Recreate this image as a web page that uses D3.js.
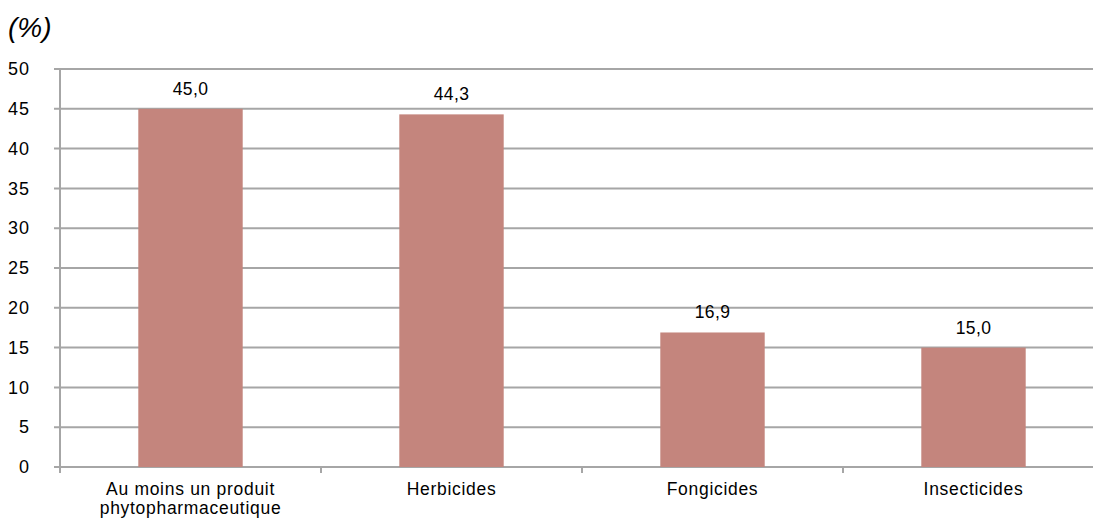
<!DOCTYPE html>
<html>
<head>
<meta charset="utf-8">
<script src="https://cdn.jsdelivr.net/npm/d3@7"></script>
<style>
  body { margin: 0; background: #fff; }
  text { font-family: "Liberation Sans", Arial, sans-serif; fill: #000; }
</style>
</head>
<body>
<div id="chart"></div>
<script>
// Chart data
var categories = ["Au moins un produit|phytopharmaceutique", "Herbicides", "Fongicides", "Insecticides"];
var values = [45.0, 44.3, 16.9, 15.0];
var valueLabels = ["45,0", "44,3", "16,9", "15,0"];
var yTicks = [0, 5, 10, 15, 20, 25, 30, 35, 40, 45, 50];

var svgWidth = 1093;
var svgHeight = 519;

var margin = { top: 69, left: 60 };
var chartWidth = 1044;
var chartHeight = 398;

var svg = d3.select("#chart")
    .append("svg")
    .attr("width", svgWidth)
    .attr("height", svgHeight);

var chartGroup = svg.append("g")
    .attr("transform", `translate(${margin.left}, ${margin.top})`);

var xScale = d3.scaleBand()
    .domain(categories)
    .range([0, chartWidth])
    .paddingInner(0.6)
    .paddingOuter(0.3);

var yScale = d3.scaleLinear()
    .domain([0, 50])
    .range([chartHeight, 0]);

var gridColor = "#a6a6a6";

// Horizontal gridlines
chartGroup.selectAll(".grid")
    .data(yTicks)
    .enter()
    .append("line")
    .attr("x1", -6)
    .attr("x2", chartWidth)
    .attr("y1", d => yScale(d))
    .attr("y2", d => yScale(d))
    .attr("stroke", gridColor)
    .attr("stroke-width", 2);

// Y axis
var leftAxis = d3.axisLeft(yScale).tickValues(yTicks).tickSize(0).tickPadding(30);
var yAxis = chartGroup.append("g").call(leftAxis);
yAxis.select(".domain").remove();
yAxis.selectAll("text")
    .attr("font-size", 18)
    .attr("letter-spacing", 1)
    .attr("font-family", "Liberation Sans, Arial, sans-serif");

chartGroup.append("line")
    .attr("x1", 0).attr("x2", 0)
    .attr("y1", 0).attr("y2", chartHeight)
    .attr("stroke", gridColor)
    .attr("stroke-width", 2);

// Category ticks on the bottom
var boundaries = d3.range(categories.length + 1).map(i => i * chartWidth / categories.length);
chartGroup.selectAll(".xtick")
    .data(boundaries)
    .enter()
    .append("line")
    .attr("x1", d => d).attr("x2", d => d)
    .attr("y1", chartHeight).attr("y2", chartHeight + 6)
    .attr("stroke", gridColor)
    .attr("stroke-width", 2);

// Bars
chartGroup.selectAll("rect")
    .data(values)
    .enter()
    .append("rect")
    .attr("x", (d, i) => xScale(categories[i]))
    .attr("y", d => yScale(d))
    .attr("width", xScale.bandwidth())
    .attr("height", d => chartHeight - yScale(d))
    .attr("fill", "#c4857d");

// Value labels
chartGroup.selectAll(".valueText")
    .data(values)
    .enter()
    .append("text")
    .attr("x", (d, i) => xScale(categories[i]) + xScale.bandwidth() / 2)
    .attr("y", d => yScale(d) - 14)
    .attr("text-anchor", "middle")
    .attr("font-size", 17.5)
    .attr("letter-spacing", 0.4)
    .text((d, i) => valueLabels[i]);

// Category labels
categories.forEach(function (c) {
    var lines = c.split("|");
    var t = chartGroup.append("text")
        .attr("text-anchor", "middle")
        .attr("font-size", 17.5)
        .attr("letter-spacing", 0.7)
        .attr("transform", `translate(${xScale(c) + xScale.bandwidth() / 2}, ${chartHeight + 28})`);
    lines.forEach(function (l, j) {
        t.append("tspan").attr("x", 0).attr("dy", j === 0 ? 0 : 19).text(l);
    });
});

// Unit label
svg.append("text")
    .attr("x", 8)
    .attr("y", 37)
    .attr("font-size", 28)
    .attr("font-style", "italic")
    .text("(%)");
</script>
</body>
</html>
